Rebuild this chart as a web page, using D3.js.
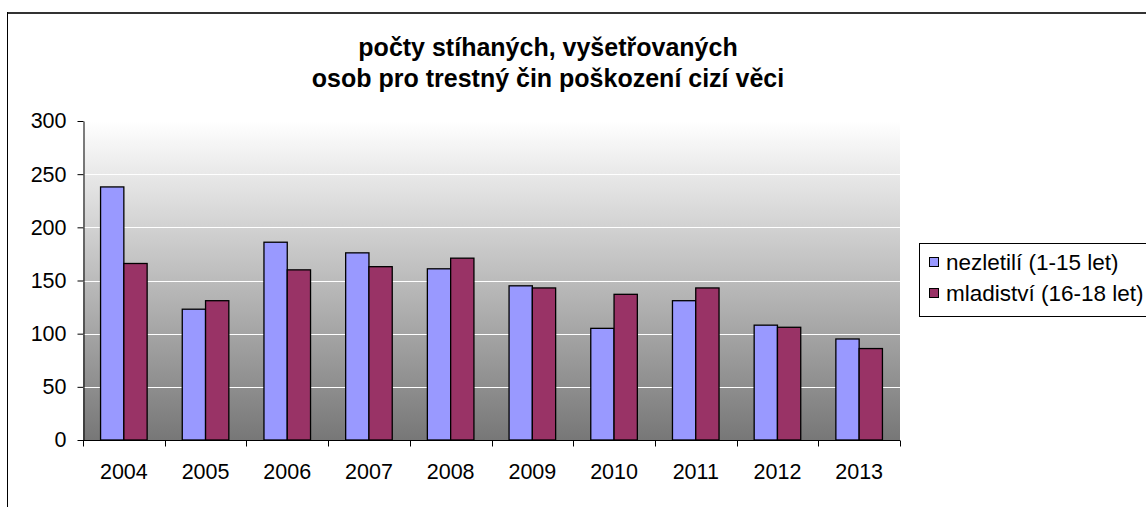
<!DOCTYPE html>
<html>
<head>
<meta charset="utf-8">
<script src="https://cdn.jsdelivr.net/npm/d3@7"></script>
<style>
  body { margin: 0; background: #fff; }
  text { font-family: "Liberation Sans", Arial, sans-serif; }
</style>
</head>
<body>
<svg id="chart" width="1146" height="507"></svg>
<script>
// chart data
const years = ["2004", "2005", "2006", "2007", "2008", "2009", "2010", "2011", "2012", "2013"];
const nezletili = [238, 123, 186, 176, 161, 145, 105, 131, 108, 95];
const mladistvi = [166, 131, 160, 163, 171, 143, 137, 143, 106, 86];
const seriesNames = ["nezletilí (1-15 let)", "mladiství (16-18 let)"];
const seriesColors = ["#9999ff", "#993366"];
const yTicks = [0, 50, 100, 150, 200, 250, 300];

const svg = d3.select("#chart");
const labelSize = 21.5;

// outer chart border (only top + left fall inside the picture)
svg.append("line").attr("x1", 7).attr("x2", 1146).attr("y1", 13).attr("y2", 13)
    .attr("stroke", "#333").attr("stroke-width", 2);
svg.append("line").attr("x1", 7.5).attr("x2", 7.5).attr("y1", 12).attr("y2", 507)
    .attr("stroke", "#000").attr("stroke-width", 1);

const plot = { left: 83, right: 900, top: 121, bottom: 440 };

const x = d3.scaleBand().domain(years).range([plot.left, plot.right])
    .paddingInner(0.43).paddingOuter(0.215);
const x1 = d3.scaleBand().domain([0, 1]).range([0, x.bandwidth()]);
const y = d3.scaleLinear().domain([0, 300]).range([plot.bottom, plot.top]);

// gradient background
const defs = svg.append("defs");
const grad = defs.append("linearGradient").attr("id", "bg")
    .attr("x1", 0).attr("y1", 0).attr("x2", 0).attr("y2", 1);
grad.append("stop").attr("offset", "0%").attr("stop-color", "#ffffff");
grad.append("stop").attr("offset", "100%").attr("stop-color", "#777777");

svg.append("rect")
    .attr("x", plot.left).attr("y", plot.top)
    .attr("width", plot.right - plot.left).attr("height", plot.bottom - plot.top)
    .attr("fill", "url(#bg)");

// gridlines
svg.append("g").selectAll("line").data(yTicks.filter(d => d > 0 && d < 300)).join("line")
    .attr("x1", plot.left).attr("x2", plot.right)
    .attr("y1", d => Math.round(y(d)) + 0.5).attr("y2", d => Math.round(y(d)) + 0.5)
    .attr("stroke", "#fff").attr("stroke-width", 1);

// bars
const groups = svg.append("g").selectAll("g").data(years).join("g")
    .attr("transform", d => `translate(${x(d)},0)`);

groups.selectAll("rect")
    .data((d, i) => [nezletili[i], mladistvi[i]].map((v, s) => ({ v, s })))
    .join("rect")
    .attr("x", d => x1(d.s))
    .attr("y", d => y(d.v))
    .attr("width", x1.bandwidth())
    .attr("height", d => y(0) - y(d.v))
    .attr("fill", d => seriesColors[d.s])
    .attr("stroke", "#000")
    .attr("stroke-width", 1.3);

// y axis
const yAxis = svg.append("g").attr("transform", `translate(${plot.left + 0.5},0)`)
    .call(d3.axisLeft(y).tickValues(yTicks).tickSize(6).tickPadding(11).tickSizeOuter(0));
yAxis.select(".domain").attr("stroke", "#000");
yAxis.selectAll("text").attr("font-size", labelSize).attr("fill", "#000")
    .style("font-family", "'Liberation Sans', Arial, sans-serif");

// x axis with ticks between categories
const xAxis = svg.append("g").attr("transform", `translate(0,${plot.bottom + 0.5})`);
xAxis.append("line").attr("x1", plot.left).attr("x2", plot.right)
    .attr("stroke", "#000");
const step = (plot.right - plot.left) / years.length;
xAxis.selectAll(".tk").data(d3.range(years.length + 1)).join("line")
    .attr("class", "tk")
    .attr("x1", i => Math.round(plot.left + i * step) + 0.5)
    .attr("x2", i => Math.round(plot.left + i * step) + 0.5)
    .attr("y1", 0).attr("y2", 6)
    .attr("stroke", "#000");
xAxis.selectAll("text").data(years).join("text")
    .attr("x", d => x(d) + x.bandwidth() / 2)
    .attr("y", 38)
    .attr("text-anchor", "middle")
    .attr("font-size", labelSize)
    .text(d => d);

// title
const title = svg.append("text")
    .attr("x", 548).attr("text-anchor", "middle")
    .attr("font-size", 25).attr("font-weight", "bold");
title.append("tspan").attr("x", 548).attr("y", 56).text("počty stíhaných, vyšetřovaných");
title.append("tspan").attr("x", 548).attr("y", 87).text("osob pro trestný čin poškození cizí věci");

// legend
const legend = svg.append("g");
legend.append("rect")
    .attr("x", 919.5).attr("y", 243.5).attr("width", 240).attr("height", 73)
    .attr("fill", "#fff").attr("stroke", "#000");
seriesNames.forEach((name, i) => {
    const ly = 262 + i * 31;
    legend.append("rect")
        .attr("x", 929.5).attr("y", ly - 4.5).attr("width", 9).attr("height", 9)
        .attr("fill", seriesColors[i]).attr("stroke", "#000");
    legend.append("text")
        .attr("x", 946).attr("y", ly + 7.5)
        .attr("font-size", 22.5)
        .text(name);
});
</script>
</body>
</html>
